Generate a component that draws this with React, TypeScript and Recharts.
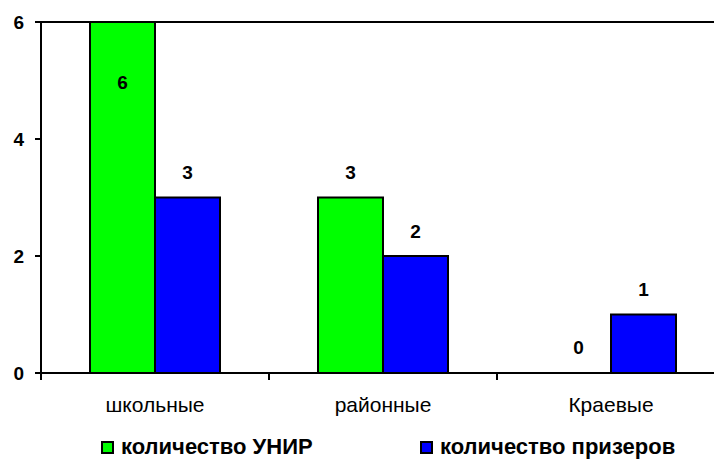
import React from 'react';
import {
  BarChart,
  Bar,
  Cell,
  XAxis,
  YAxis,
  LabelList,
  Legend,
  ReferenceLine,
} from 'recharts';

const categories = ['школьные', 'районные', 'Краевые'];
const unirValues = [6, 3, 0];
const prizeValues = [3, 2, 1];
const yTicks = [0, 2, 4, 6];
const seriesNames = ['количество УНИР', 'количество призеров'];

const data = categories.map((name, i) => ({
  name,
  unir: unirValues[i],
  prize: prizeValues[i],
}));

const FONT = 'Arial, "Liberation Sans", sans-serif';

const PLOT_LEFT = 41;
const PLOT_RIGHT = 725;
const BAND = (PLOT_RIGHT - PLOT_LEFT) / categories.length;
const LEGEND_H = 24;

const CategoryTick = (props: any) => {
  const { x, y, payload, index } = props;
  const left = x - BAND / 2;
  return (
    <g>
      <line x1={left} y1={y - 8} x2={left} y2={y - 1} stroke="#000" strokeWidth={2} />
      {index === categories.length - 1 && (
        <line x1={x + BAND / 2} y1={y - 8} x2={x + BAND / 2} y2={y - 1} stroke="#000" strokeWidth={2} />
      )}
      <text
        x={x}
        y={y + 23}
        textAnchor="middle"
        dominantBaseline="central"
        fontFamily={FONT}
        fontSize={21}
        fill="#000"
      >
        {payload.value}
      </text>
    </g>
  );
};

const ValueLabel = (props: any) => {
  const { x, y, width, value } = props;
  const top = Number(value) === 6 ? y + 60 : y - 25;
  return (
    <text
      x={x + width / 2}
      y={top}
      textAnchor="middle"
      dominantBaseline="central"
      fontFamily={FONT}
      fontWeight="bold"
      fontSize={19}
      fill="#000"
    >
      {value}
    </text>
  );
};

// a zero value gets a hair-thin bar so that its label is still drawn
const zeroMin = (value: any) => (Number(value) === 0 ? 0.5 : 0);

const LegendBox = () => {
  const items = [
    { name: seriesNames[0], color: '#00ff00', left: 101 },
    { name: seriesNames[1], color: '#0000ff', left: 420 },
  ];
  return (
    <div style={{ position: 'relative', width: 714, height: LEGEND_H }}>
      {items.map((it) => (
        <div
          key={it.name}
          style={{
            position: 'absolute',
            left: it.left,
            top: 0,
            height: LEGEND_H,
            lineHeight: `${LEGEND_H}px`,
            display: 'flex',
            alignItems: 'center',
            fontFamily: FONT,
            fontWeight: 'bold',
            fontSize: 22,
            color: '#000',
            whiteSpace: 'nowrap',
          }}
        >
          <span
            style={{
              display: 'inline-block',
              width: 9,
              height: 9,
              background: it.color,
              border: '2px solid #000',
              marginRight: 7,
            }}
          />
          {it.name}
        </div>
      ))}
    </div>
  );
};

export default function App() {
  return (
    <div
      style={{
        position: 'absolute',
        left: 0,
        top: 0,
        width: 714,
        height: 459,
        overflow: 'hidden',
        background: '#fff',
      }}
    >
      <BarChart
        width={740}
        height={459}
        data={data}
        margin={{ top: 22, right: 740 - PLOT_RIGHT, bottom: 0, left: 0 }}
        barCategoryGap={49}
        barGap={0}
      >
        <ReferenceLine y={6} stroke="#000" strokeWidth={2} />
        <XAxis
          dataKey="name"
          height={86 - LEGEND_H}
          axisLine={{ stroke: '#000', strokeWidth: 2 }}
          tickLine={false}
          tick={<CategoryTick />}
          interval={0}
        />
        <YAxis
          width={PLOT_LEFT}
          domain={[0, 6]}
          ticks={yTicks}
          interval={0}
          axisLine={{ stroke: '#000', strokeWidth: 2 }}
          tickLine={{ stroke: '#000', strokeWidth: 2 }}
          tickSize={6}
          tickMargin={11}
          tick={{ fill: '#000', fontFamily: FONT, fontWeight: 'bold', fontSize: 19 }}
        />
        <Legend
          verticalAlign="bottom"
          content={<LegendBox />}
          wrapperStyle={{ left: 0, top: 459 - LEGEND_H, bottom: 'auto', width: 714, height: LEGEND_H }}
        />
        <Bar
          dataKey="unir"
          name={seriesNames[0]}
          fill="#00ff00"
          stroke="#000"
          strokeWidth={2}
          minPointSize={zeroMin}
          isAnimationActive={false}
        >
          {unirValues.map((v, i) => (
            <Cell key={`unir-${i}`} stroke={v === 0 ? 'none' : '#000'} fill={v === 0 ? 'none' : '#00ff00'} />
          ))}
          <LabelList dataKey="unir" content={<ValueLabel />} />
        </Bar>
        <Bar
          dataKey="prize"
          name={seriesNames[1]}
          fill="#0000ff"
          stroke="#000"
          strokeWidth={2}
          isAnimationActive={false}
        >
          <LabelList dataKey="prize" content={<ValueLabel />} />
        </Bar>
      </BarChart>
    </div>
  );
}
